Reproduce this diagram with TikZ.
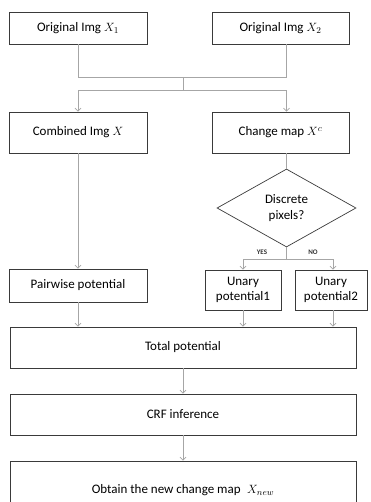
\documentclass[tikz,border=0pt]{standalone}
\usepackage{fontspec}
\setmainfont{Carlito}
\usetikzlibrary{shapes.geometric,arrows.meta,calc}
\definecolor{boxline}{HTML}{3A3A3A}
\definecolor{connline}{HTML}{A6A6A6}
\begin{document}
\begin{tikzpicture}[x=1pt,y=-1pt,
  box/.style={draw=boxline,line width=0.7pt,rectangle,inner sep=0pt,align=center,font=\fontsize{13}{15.5}\selectfont},
  dec/.style={draw=boxline,line width=0.7pt,diamond,inner sep=0pt,align=center,font=\fontsize{13}{15.5}\selectfont},
  conn/.style={draw=connline,line width=0.8pt},
  arr/.style={conn,-{Straight Barb[length=3pt,width=6pt]}},
  lbl/.style={inner sep=0pt,font=\fontsize{7}{8}\selectfont\bfseries,text=black!80}]
\useasboundingbox (0,0) rectangle (370,502);
\clip (0,0) rectangle (370,502);
\node[box,minimum width=138pt,minimum height=32pt] (x1) at (78,28) {Original Img $X_1$};
\node[box,minimum width=137pt,minimum height=32pt] (x2) at (280.5,28) {Original Img $X_2$};
\node[box,minimum width=138pt,minimum height=41pt] (comb) at (78,132.5) {Combined Img $X$};
\node[box,minimum width=137pt,minimum height=41pt] (cm) at (280.5,132.5) {Change map $X^c$};
\node[dec,minimum width=139pt,minimum height=78pt] (d) at (286.5,208) {Discrete\\pixels?};
\node[box,minimum width=138pt,minimum height=33pt] (pw) at (78,285.5) {Pairwise potential};
\node[box,minimum width=76pt,minimum height=40pt] (u1) at (243,290) {Unary\\potential1};
\node[box,minimum width=72pt,minimum height=40pt] (u2) at (331,290) {Unary\\potential2};
\node[box,minimum width=346pt,minimum height=41pt] (tot) at (183,347.5) {Total potential};
\node[box,minimum width=346pt,minimum height=41pt] (crf) at (183,414.5) {CRF inference};
\node[box,minimum width=346pt,minimum height=58pt] (last) at (183,490) {Obtain the new change map\enspace $X_{new}$};
\coordinate (jt) at (183,77);
\coordinate (jb) at (183,90);
\coordinate (jy) at (286.5,259);
\draw[conn] (x1.south) |- (jt);
\draw[conn] (x2.south -| d.north) |- (jt);
\draw[conn] (jt) -- (jb);
\draw[arr] (jb) -| (comb.north);
\draw[arr] (jb) -| (cm.north -| d.north);
\draw[conn] (cm.south -| d.north) -- (d.north);
\draw[conn] (d.south) -- (jy);
\draw[arr] (jy) -| (u1.north);
\draw[arr] (jy) -| ($(u2.north)+(2,0)$);
\node[lbl] (yes) at (262,252) {YES};
\node[lbl] (no) at (313,252) {NO};
\draw[arr] (comb.south) -- (pw.north);
\draw[arr] (pw.south) -- (pw.south |- tot.north);
\draw[arr] (u1.south) -- (u1.south |- tot.north);
\draw[arr] ($(u2.south)+(2,0)$) -- ($(u2.south |- tot.north)+(2,0)$);
\draw[arr] (tot.south) -- (crf.north);
\draw[arr] (crf.south) -- (last.north);
\end{tikzpicture}
\end{document}
